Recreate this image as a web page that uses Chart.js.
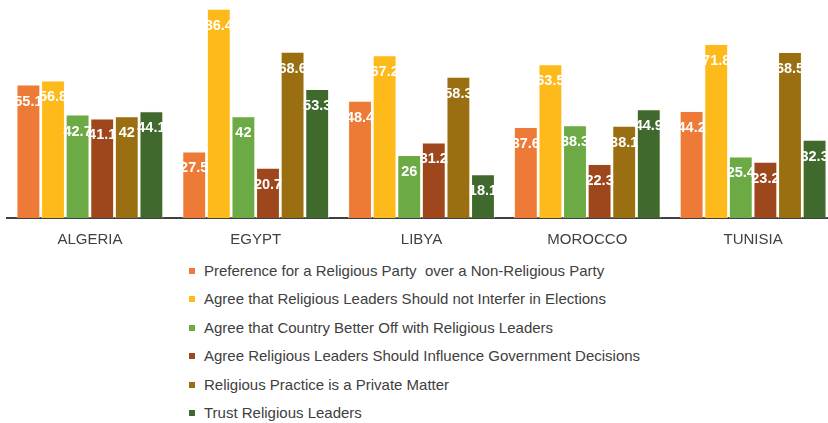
<!DOCTYPE html>
<html>
<head>
<meta charset="utf-8">
<script src="https://cdn.jsdelivr.net/npm/chart.js@4/dist/chart.umd.min.js"></script>
<style>
  html, body { margin: 0; padding: 0; background: #fff; overflow: hidden; }
  #wrap { position: relative; width: 836px; height: 254px; }
  #legend { position: absolute; left: 189px; top: 257px; font-family: "Liberation Sans", Arial, sans-serif; font-size: 15px; color: #404040; }
  #legend div { height: 28.4px; line-height: 28.4px; white-space: pre; }
  #legend span { display: inline-block; width: 6px; height: 6px; margin-right: 9px; vertical-align: middle; position: relative; top: -1px; }
</style>
</head>
<body>
<div id="wrap"><canvas id="myChart"></canvas></div>
<div id="legend"></div>
<script>
var countries = ['ALGERIA', 'EGYPT', 'LIBYA', 'MOROCCO', 'TUNISIA'];

var seriesNames = [
  'Preference for a Religious Party  over a Non-Religious Party',
  'Agree that Religious Leaders Should not Interfer in Elections',
  'Agree that Country Better Off with Religious Leaders',
  'Agree Religious Leaders Should Influence Government Decisions',
  'Religious Practice is a Private Matter',
  'Trust Religious Leaders'
];

var preferReligiousParty = [55.1, 27.5, 48.4, 37.6, 44.2];
var notInterfereElections = [56.8, 86.4, 67.2, 63.5, 71.8];
var betterOffWithLeaders = [42.7, 42, 26, 38.3, 25.4];
var influenceGovernment = [41.1, 20.7, 31.2, 22.3, 23.2];
var privateMatter = [42, 68.6, 58.3, 38.1, 68.5];
var trustLeaders = [44.1, 53.3, 18.1, 44.9, 32.3];

var colors = ['#EE7A37', '#FDBA1A', '#6CAA45', '#9E461C', '#9A6F12', '#406A2D'];

var allValues = [preferReligiousParty, notInterfereElections, betterOffWithLeaders,
                 influenceGovernment, privateMatter, trustLeaders];

var datasets = [];
for (var i = 0; i < allValues.length; i++) {
  datasets.push({
    label: seriesNames[i],
    data: allValues[i],
    backgroundColor: colors[i],
    borderColor: 'rgba(255,250,230,0.6)',
    borderWidth: 1,
    categoryPercentage: 0.89,
    barPercentage: 0.97
  });
}

// white value labels just under the top of each bar
var valueLabels = {
  id: 'valueLabels',
  afterDatasetsDraw: function(chart) {
    var ctx = chart.ctx;
    ctx.save();
    ctx.font = 'bold 14.5px "Liberation Sans", Arial, sans-serif';
    ctx.fillStyle = '#ffffff';
    ctx.textAlign = 'center';
    ctx.textBaseline = 'middle';
    chart.data.datasets.forEach(function(ds, di) {
      var meta = chart.getDatasetMeta(di);
      meta.data.forEach(function(bar, j) {
        ctx.fillText(String(ds.data[j]), bar.x, bar.y + 17);
      });
    });
    ctx.restore();
  }
};

var ctx = document.getElementById('myChart');
var myChart = new Chart(ctx, {
  type: 'bar',
  data: {
    labels: countries,
    datasets: datasets
  },
  options: {
    responsive: true,
    maintainAspectRatio: false,
    animation: false,
    layout: { padding: { left: 7, right: 0, top: 0, bottom: 0 } },
    plugins: {
      legend: { display: false },
      tooltip: { enabled: false }
    },
    scales: {
      x: {
        grid: { display: false },
        border: { display: true, color: '#404040', width: 2 },
        ticks: {
          color: '#404040',
          padding: 5,
          font: { family: '"Liberation Sans", Arial, sans-serif', size: 15 }
        }
      },
      y: {
        display: false,
        min: 0,
        max: 90
      }
    }
  },
  plugins: [valueLabels]
});

// legend list, one item per line
var legendEl = document.getElementById('legend');
myChart.data.datasets.forEach(function(ds) {
  var row = document.createElement('div');
  var box = document.createElement('span');
  box.style.background = ds.backgroundColor;
  row.appendChild(box);
  row.appendChild(document.createTextNode(ds.label));
  legendEl.appendChild(row);
});
</script>
</body>
</html>
